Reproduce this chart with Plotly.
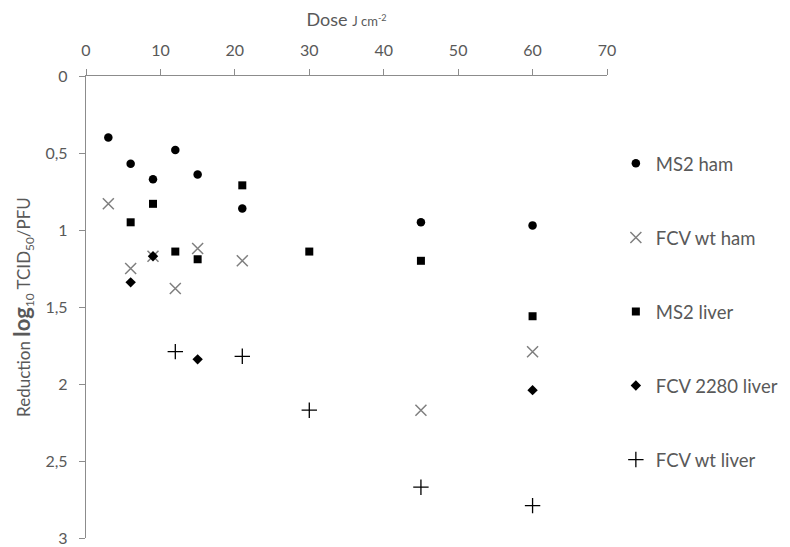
import plotly.graph_objects as go

# Data (dose in J cm^-2, reduction in log10 TCID50/PFU)
ms2_ham_dose = [3, 6, 9, 12, 15, 21, 45, 60]
ms2_ham_red = [0.40, 0.57, 0.67, 0.48, 0.64, 0.86, 0.95, 0.97]

fcv_wt_ham_dose = [3, 6, 9, 12, 15, 21, 45, 60]
fcv_wt_ham_red = [0.83, 1.25, 1.17, 1.38, 1.12, 1.20, 2.17, 1.79]

ms2_liver_dose = [6, 9, 12, 15, 21, 30, 45, 60]
ms2_liver_red = [0.95, 0.83, 1.14, 1.19, 0.71, 1.14, 1.20, 1.56]

fcv2280_liver_dose = [6, 9, 15, 60]
fcv2280_liver_red = [1.34, 1.17, 1.84, 2.04]

fcv_wt_liver_dose = [12, 21, 30, 45, 60]
fcv_wt_liver_red = [1.79, 1.82, 2.17, 2.67, 2.79]

x_ticks = [0, 10, 20, 30, 40, 50, 60, 70]
y_ticks = [0, 0.5, 1, 1.5, 2, 2.5, 3]

GRAY_TEXT = "#595959"
AXIS = "#8c8c8c"
FONT = "Lato, 'Open Sans', sans-serif"

fig = go.Figure()

fig.add_trace(go.Scatter(
    x=ms2_ham_dose, y=ms2_ham_red, mode="markers", name="MS2 ham",
    legendgroup="a",
    marker=dict(symbol="circle", size=8.5, color="black")))
fig.add_trace(go.Scatter(
    x=fcv_wt_ham_dose, y=fcv_wt_ham_red, mode="markers", name="FCV wt ham",
    legendgroup="b",
    marker=dict(symbol="x-thin", size=11, color="#7f7f7f",
                line=dict(color="#7f7f7f", width=1.5))))
fig.add_trace(go.Scatter(
    x=ms2_liver_dose, y=ms2_liver_red, mode="markers", name="MS2 liver",
    legendgroup="c",
    marker=dict(symbol="square", size=8, color="black")))
fig.add_trace(go.Scatter(
    x=fcv2280_liver_dose, y=fcv2280_liver_red, mode="markers", name="FCV 2280 liver",
    legendgroup="d",
    marker=dict(symbol="diamond", size=8, color="black")))
fig.add_trace(go.Scatter(
    x=fcv_wt_liver_dose, y=fcv_wt_liver_red, mode="markers", name="FCV wt liver",
    legendgroup="e",
    marker=dict(symbol="cross-thin", size=11, color="black",
                line=dict(color="black", width=1.3))))

# The page body adds an 8px offset, so the figure is 8px smaller and margins compensate.
fig.update_layout(
    width=782, height=539,
    margin=dict(l=78, r=183, t=68, b=9, autoexpand=False),
    paper_bgcolor="white", plot_bgcolor="white",
    separators=", ",
    font=dict(family=FONT, color=GRAY_TEXT, size=16),
    showlegend=True,
    legend=dict(
        x=1.017, xanchor="left", y=0.851, yanchor="top",
        tracegroupgap=47, itemwidth=30,
        font=dict(size=18.5, color=GRAY_TEXT, family=FONT),
        bgcolor="rgba(0,0,0,0)",
    ),
    xaxis=dict(
        side="top", range=[0, 70], tickvals=x_ticks,
        automargin=False,
        showgrid=False, zeroline=False,
        showline=True, linecolor=AXIS, linewidth=1.3,
        ticks="outside", ticklen=6, tickcolor=AXIS, tickwidth=1.3,
        ticklabelstandoff=6,
        tickfont=dict(size=16, color=GRAY_TEXT),
        title=dict(text="Dose <span style='font-size:13px'>J cm<sup>-2</sup></span>",
                   font=dict(size=18, color=GRAY_TEXT), standoff=25),
    ),
    yaxis=dict(
        range=[3, 0], tickvals=y_ticks,
        automargin=False,
        showgrid=False, zeroline=False,
        showline=True, linecolor=AXIS, linewidth=1.3,
        ticks="outside", ticklen=6, tickcolor=AXIS, tickwidth=1.3,
        ticklabelstandoff=8,
        tickfont=dict(size=16, color=GRAY_TEXT),
        title=dict(text="Reduction <b><span style='font-size:22px'>log</span></b><sub>10</sub> TCID<sub>50</sub>/PFU",
                   font=dict(size=17, color=GRAY_TEXT), standoff=29),
    ),
)

fig.write_html("out.html")
